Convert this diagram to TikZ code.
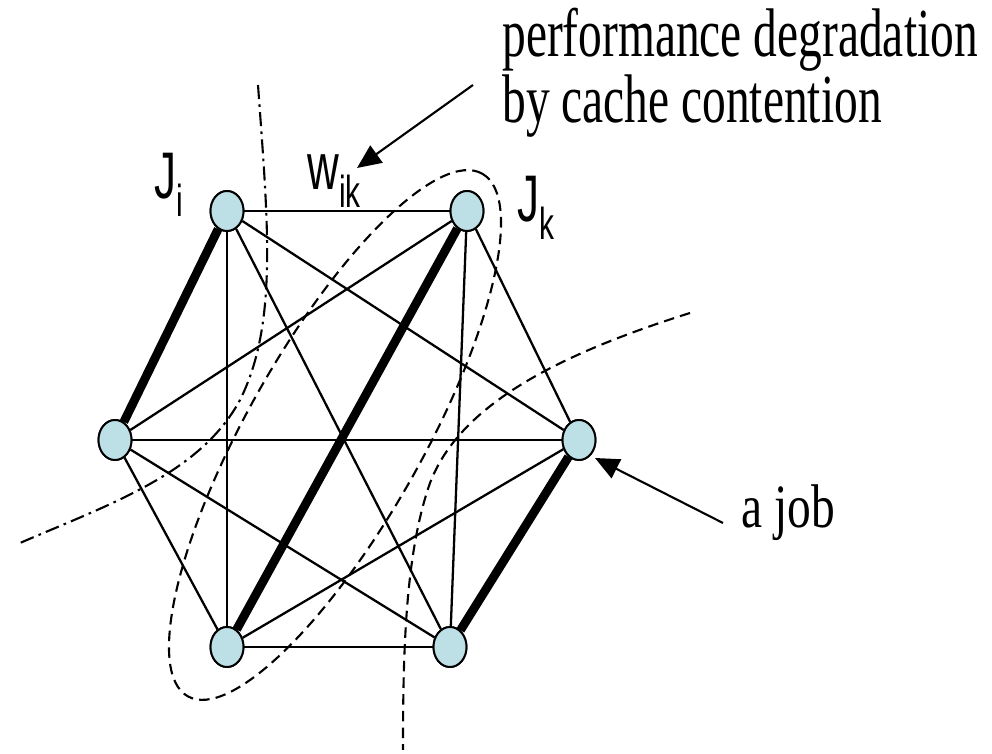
\documentclass[tikz,border=0pt]{standalone}
\usepackage{fontspec}
\setmainfont{Liberation Serif}
\setsansfont{Liberation Sans}
\usetikzlibrary{shapes.geometric,arrows.meta}
\definecolor{jobblue}{RGB}{189,224,230}
\newcommand\joblabel[2]{{\sffamily\fontsize{25}{25}\selectfont #1\raisebox{-6.8pt}{\fontsize{17}{17}\selectfont #2}}}

\begin{document}
\begin{tikzpicture}[x=0.02cm,y=0.02cm,
    job/.style={ellipse,draw,fill=jobblue,line width=1.1pt,minimum width=0.66cm,minimum height=0.8cm,inner sep=0pt},
    edge/.style={line width=1.3pt},
    heavy/.style={line width=5pt},
    cut/.style={line width=1.2pt,dash pattern=on 6pt off 3.5pt},
    cutdot/.style={line width=1.2pt,dash pattern=on 8pt off 3pt on 1.5pt off 3pt},
    pointer/.style={line width=1.2pt,-{Triangle[length=0.48cm,width=0.42cm]}},
    serif/.style={anchor=base west,inner sep=0pt,font=\fontsize{27}{27}\selectfont,transform shape},
    lab/.style={anchor=base west,inner sep=0pt,yscale=1.5,transform shape}]
  \useasboundingbox (0,0) rectangle (992,754);
  \node[job] (ji) at (227,543) {};
  \node[job] (jk) at (467,543) {};
  \node[job] (left) at (115,314) {};
  \node[job] (right) at (579,314) {};
  \node[job] (bl) at (227,107) {};
  \node[job] (br) at (450,107) {};
  \foreach \a/\b in {ji/jk,ji/right,ji/bl,ji/br,jk/left,jk/right,jk/br,left/right,left/bl,left/br,right/bl,bl/br}
    \draw[edge] (\a) -- (\b);
  \draw[heavy] (ji) -- (left);
  \draw[heavy] (jk) -- (bl);
  \draw[heavy] (right) -- (br);
  % partitions
  \draw[cutdot] (258,669) .. controls (268,530) and (278,430) .. (240,354)
    .. controls (200,280) and (110,250) .. (20,211);
  \draw[cut] (690,441) .. controls (560,400) and (460,350) .. (430,271)
    .. controls (405,200) and (403,100) .. (403,4);
  \draw[cut,rotate around={60.6:(335,319)}] (335,319) ellipse [x radius=6cm,y radius=1.76cm];
  \node[job] at (ji) {};
  \node[job] at (jk) {};
  \node[job] at (left) {};
  \node[job] at (right) {};
  \node[job] at (bl) {};
  \node[job] at (br) {};
  % labels
  \node[lab] (jilab) at (154,555) {\joblabel{J}{i}};
  \node[lab] (jklab) at (517,532) {\joblabel{J}{k}};
  \node[lab] (wlab) at (307,564) {\joblabel{w}{ik}};
  \node[serif,yscale=1.45] (perfa) at (502,697) {performance degradation};
  \node[serif,yscale=1.45] (perfb) at (502,631) {by cache contention};
  \node[serif,yscale=1.3] (joblab) at (741,226) {a job};
  \coordinate (perftail) at (473,669);
  \coordinate (wtip) at (357,586);
  \coordinate (jobtail) at (723,231);
  \coordinate (jobtip) at (595,296);
  \draw[pointer] (perftail) -- (wtip);
  \draw[pointer] (jobtail) -- (jobtip);
\end{tikzpicture}
\end{document}
